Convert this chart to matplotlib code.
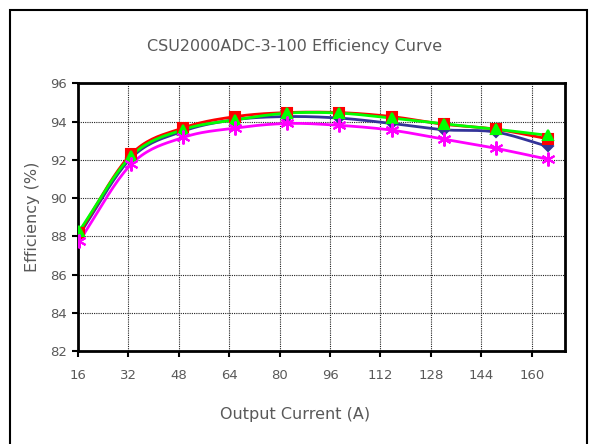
import numpy as np
import matplotlib
matplotlib.use('Agg')
import matplotlib.pyplot as plt
from matplotlib.patches import Rectangle

# load current (A) and efficiency (%) for the four curves
current = [16.5, 33, 49.5, 66, 82.5, 99, 115.5, 132, 148.5, 165]
eff_blue = [88.10, 92.10, 93.50, 94.10, 94.26, 94.18, 93.90, 93.57, 93.45, 92.70]
eff_red = [88.19, 92.30, 93.67, 94.26, 94.47, 94.47, 94.26, 93.86, 93.60, 93.10]
eff_green = [88.28, 92.20, 93.58, 94.09, 94.44, 94.44, 94.18, 93.88, 93.60, 93.28]
eff_magenta = [87.75, 91.77, 93.17, 93.66, 93.90, 93.80, 93.55, 93.08, 92.60, 92.03]

xticks = [16, 32, 48, 64, 80, 96, 112, 128, 144, 160]
yticks = [82, 84, 86, 88, 90, 92, 94, 96]

grey = '#595959'


def smooth(x, y, n=20):
    # catmull-rom through the points, like excel's smoothed line
    x = np.asarray(x, float)
    y = np.asarray(y, float)
    px = np.concatenate([[2 * x[0] - x[1]], x, [2 * x[-1] - x[-2]]])
    py = np.concatenate([[2 * y[0] - y[1]], y, [2 * y[-1] - y[-2]]])
    xs, ys = [], []
    t = np.linspace(0, 1, n, endpoint=False)
    for i in range(1, len(px) - 2):
        for p, out in ((px, xs), (py, ys)):
            p0, p1, p2, p3 = p[i - 1], p[i], p[i + 1], p[i + 2]
            out.extend(0.5 * (2 * p1 + (-p0 + p2) * t
                              + (2 * p0 - 5 * p1 + 4 * p2 - p3) * t ** 2
                              + (-p0 + 3 * p1 - 3 * p2 + p3) * t ** 3))
    xs.append(x[-1])
    ys.append(y[-1])
    return xs, ys


fig = plt.figure(figsize=(5.9, 4.44), dpi=100)
fig.patches.append(Rectangle((10 / 590, -0.05), 577 / 590, 1 - 10 / 444 + 0.05,
                             transform=fig.transFigure, fill=False,
                             edgecolor='black', linewidth=1.5))

ax = fig.add_axes([77.7 / 590, 1 - 351 / 444, (565 - 77.7) / 590, (351 - 83.3) / 444])

series = [
    (eff_blue, '#333399', 'D', 5.5),
    (eff_red, '#ff0000', 's', 6.5),
    (eff_green, '#00ff00', '^', 7.5),
    (eff_magenta, '#ff00ff', (6, 2, 0), 10),
]
for vals, col, mk, ms in series:
    sx, sy = smooth(current, vals)
    ax.plot(sx, sy, color=col, linewidth=2, zorder=3)
    ax.plot(current, vals, linestyle='none', marker=mk, markersize=ms,
            color=col, markeredgecolor=col, markeredgewidth=1.5, zorder=4)

ax.set_xlim(16, 170.5)
ax.set_ylim(82, 96)
ax.set_xticks(xticks)
ax.set_yticks(yticks)
ax.grid(True, color='#222222', linestyle=(0, (1, 1)), linewidth=0.8)
for s in ax.spines.values():
    s.set_linewidth(2)
ax.tick_params(axis='both', colors='black', labelcolor=grey, labelsize=9.5,
               length=4, width=1.5, direction='out')
ax.tick_params(axis='x', pad=9)

fig.text(0.5, 1 - 47 / 444, 'CSU2000ADC-3-100 Efficiency Curve', ha='center',
         va='center', color=grey, fontsize=11.5)
fig.text(0.5, 1 - 414 / 444, 'Output Current (A)', ha='center', va='center',
         color=grey, fontsize=11.5)
fig.text(33 / 590, 1 - 217 / 444, 'Efficiency (%)', ha='center', va='center',
         rotation=90, color=grey, fontsize=11.5)

fig.savefig('out.png', dpi=100)
